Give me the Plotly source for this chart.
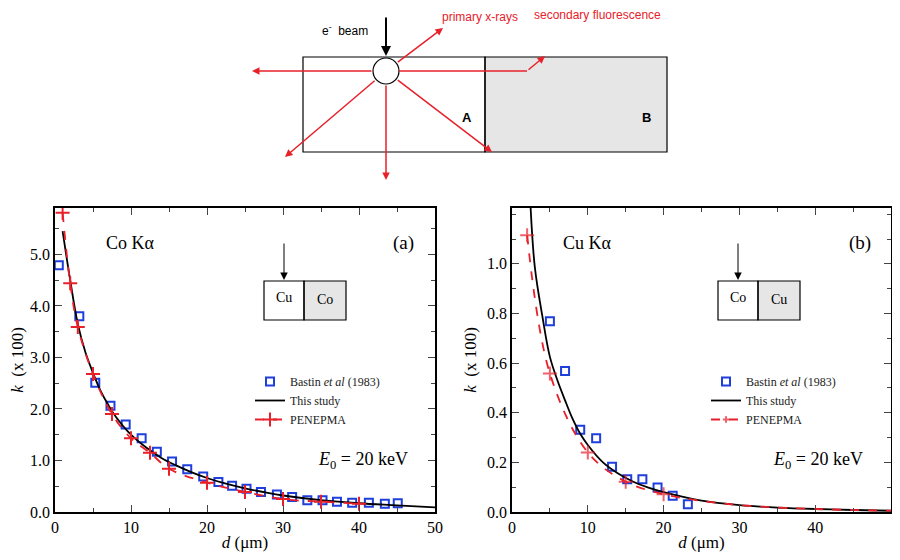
import plotly.graph_objects as go
import math

# Panel (a): Co Ka
a_bastin_d = [0.5,3.2,5.3,7.3,9.3,11.4,13.4,15.4,17.4,19.5,21.5,23.3,25.2,27.1,29.2,31.2,33.2,35.2,37.1,39.1,41.3,43.4,45.1]
a_bastin_k = [4.79,3.80,2.51,2.06,1.70,1.43,1.17,0.98,0.83,0.69,0.58,0.51,0.45,0.39,0.34,0.29,0.23,0.23,0.20,0.18,0.18,0.16,0.17]
a_pen_d = [1,2,3,5,7.5,10,12.5,15,20,25,30,35,40]
a_pen_k = [5.81,4.44,3.59,2.68,1.90,1.43,1.15,0.84,0.57,0.39,0.25,0.20,0.16]
a_study_d = [1,2,3,4,5,6,7,8,10,12,14,16,18,20,22,25,28,30,35,40,45,50]
a_study_k = [5.45,4.5,3.65,3.1,2.7,2.35,2.08,1.85,1.5,1.25,1.05,0.9,0.77,0.66,0.57,0.46,0.37,0.32,0.23,0.17,0.13,0.09]

# Panel (b): Cu Ka
b_bastin_d = [5.0,7.0,9.0,11.1,13.2,15.2,17.2,19.2,21.2,23.2]
b_bastin_k = [0.769,0.568,0.331,0.297,0.182,0.132,0.132,0.099,0.065,0.031]
b_pen_d = [2,5,10,15,20,25,30,35,40,45,50]
b_pen_k = [1.115,0.558,0.24,0.122,0.072,0.045,0.028,0.018,0.012,0.008,0.005]
b_pen_msize = [10,10,10,10,10,0,0,0,0,0,0]
b_study_d = [2.4,3,4,5,6,7,8,9,10,12,14,16,18,20,25,30,35,40,45,50]
b_study_k = [1.26,0.99,0.79,0.625,0.53,0.45,0.375,0.315,0.27,0.2,0.155,0.122,0.098,0.08,0.046,0.028,0.018,0.012,0.008,0.005]

SERIF = "Liberation Serif"
RED = "#e8202a"
BLUE = "#1f3fdc"
OFF = 8
W, H = 900 - 2*OFF, 560 - 2*OFF

def px(x):
    return (x - OFF) / W
def py(y):
    return (560 - OFF - y) / H

fig = go.Figure()

def add_panel(xa, ya, bd, bk, sd, sk, pd, pk, psize=10, leg="legend"):
    fig.add_trace(go.Scatter(x=bd, y=bk, mode="markers", name="Bastin <i>et al</i> (1983)",
        marker=dict(symbol="square-open", size=8, color=BLUE, line=dict(width=2, color=BLUE)),
        xaxis=xa, yaxis=ya, legend=leg))
    fig.add_trace(go.Scatter(x=sd, y=sk, mode="lines", name="This study",
        line=dict(color="black", width=1.8, shape="spline", smoothing=1), xaxis=xa, yaxis=ya, legend=leg))
    fig.add_trace(go.Scatter(x=pd, y=pk, mode="lines+markers", name="PENEPMA",
        line=dict(color=RED, width=1.8, dash="dash", shape="spline"),
        marker=dict(symbol="cross-thin", size=psize, color=RED, line=dict(width=2, color=RED)),
        xaxis=xa, yaxis=ya, legend=leg))

add_panel("x", "y", a_bastin_d, a_bastin_k, a_study_d, a_study_k, a_pen_d, a_pen_k, leg="legend")
add_panel("x2", "y2", b_bastin_d, b_bastin_k, b_study_d, b_study_k, b_pen_d, b_pen_k, psize=b_pen_msize, leg="legend2")

def xax(domain, anchor):
    return dict(domain=domain, anchor=anchor, range=[0, 50], tickvals=[0,10,20,30,40,50],
        ticks="inside", ticklen=7, mirror="allticks", showline=True, linecolor="black", linewidth=1.5,
        showgrid=False, zeroline=False, automargin=False, tickfont=dict(family=SERIF, size=16, color="black"),
        minor=dict(ticks="inside", ticklen=4, dtick=5),
        title=dict(text="<i>d</i> (μm)", font=dict(family=SERIF, size=17, color="black"), standoff=2))

def yax(domain, anchor, rng, vals, txt):
    return dict(domain=domain, anchor=anchor, range=rng, tickvals=vals, ticktext=txt,
        ticks="inside", ticklen=7, mirror="allticks", showline=True, linecolor="black", linewidth=1.5,
        showgrid=False, zeroline=False, automargin=False, tickfont=dict(family=SERIF, size=16, color="black"),
        minor=dict(ticks="inside", ticklen=4, dtick=(vals[1]-vals[0])/2),
        title=dict(text="<i>k</i>  (x 100)", font=dict(family=SERIF, size=17, color="black"), standoff=6))

ydom = [py(512), py(208)]
fig.update_layout(
    width=W, height=H, margin=dict(l=0, r=0, t=0, b=0, autoexpand=False),
    paper_bgcolor="white", plot_bgcolor="rgba(0,0,0,0)", showlegend=True,
    xaxis=xax([px(55), px(435)], "y"),
    yaxis=yax(ydom, "x", [0, 5.9], [0,1,2,3,4,5], ["0.0","1.0","2.0","3.0","4.0","5.0"]),
    xaxis2=xax([px(512), px(891)], "y2"),
    yaxis2=yax(ydom, "x2", [0, 1.225], [0,0.2,0.4,0.6,0.8,1.0], ["0.0","0.2","0.4","0.6","0.8","1.0"]),
    xaxis3=dict(domain=[0,1], range=[OFF, 900-OFF], visible=False, anchor="y3", fixedrange=True, automargin=False),
    yaxis3=dict(domain=[0,1], range=[560-OFF, OFF], visible=False, anchor="x3", fixedrange=True, automargin=False),
    legend=dict(x=px(250), y=py(367), xanchor="left", yanchor="top", bgcolor="rgba(0,0,0,0)",
                font=dict(family=SERIF, size=12, color="#222"), tracegroupgap=0, itemwidth=30),
    legend2=dict(x=px(706), y=py(367), xanchor="left", yanchor="top", bgcolor="rgba(0,0,0,0)",
                font=dict(family=SERIF, size=12, color="#222"), tracegroupgap=0, itemwidth=30),
)
fig.add_trace(go.Scatter(x=[450], y=[300], mode="markers", marker=dict(opacity=0), xaxis="x3", yaxis="y3",
                         showlegend=False, hoverinfo="skip"))

shapes = []
ann = []
def rect(x0, y0, x1, y1, fill="rgba(0,0,0,0)", w=1.2):
    shapes.append(dict(type="rect", xref="x3", yref="y3", x0=x0, y0=y0, x1=x1, y1=y1,
                       fillcolor=fill, line=dict(color="black", width=w), layer="above"))
def text(x, y, t, size=16, color="black", family=SERIF, xanchor="center"):
    ann.append(dict(x=x, y=y, xref="x3", yref="y3", text=t, showarrow=False, xanchor=xanchor,
                    font=dict(family=family, size=size, color=color)))
def arrow(x0, y0, x1, y1, color, w=1.5, size=1):
    ann.append(dict(x=x1, y=y1, ax=x0, ay=y0, xref="x3", yref="y3", axref="x3", ayref="y3",
                    text="", showarrow=True, arrowhead=2, arrowsize=size, arrowwidth=w, arrowcolor=color))

# top diagram
rect(485, 57, 667, 152, fill="#e6e6e6")
rect(303, 57, 485, 152)
shapes.append(dict(type="circle", xref="x3", yref="y3", x0=373, y0=58, x1=399, y1=84,
                   fillcolor="white", line=dict(color="black", width=1.2), layer="above"))
arrow(386, 16, 386, 56, "black", w=2, size=1)
text(345, 30, "e<sup>-</sup>  beam", size=12, family="Liberation Sans")
text(253, 7, "<b>a</b>", size=11, family="Liberation Sans")
text(467, 117, "<b>A</b>", size=13, family="Liberation Sans")
text(646, 117, "<b>B</b>", size=13, family="Liberation Sans")
text(440, 17, "primary x-rays", size=12, color=RED, family="Liberation Sans", xanchor="left")
text(532, 15, "secondary fluorescence", size=12, color=RED, family="Liberation Sans", xanchor="left")
for (x1, y1) in [(252, 71), (443, 28), (285, 157), (386, 180), (492, 152)]:
    dx, dy = x1 - 386, y1 - 71
    L = math.hypot(dx, dy)
    arrow(386 + dx/L*13, 71 + dy/L*13, x1, y1, RED)
shapes.append(dict(type="line", xref="x3", yref="y3", x0=399, y0=71, x1=527, y1=71,
                   line=dict(color=RED, width=1.5)))
arrow(527, 71, 545, 56, RED)

# panel insets
for (x0, l1, l2) in [(264, "Cu", "Co"), (718, "Co", "Cu")]:
    rect(x0 + 40, 281, x0 + 82, 320, fill="#e6e6e6")
    rect(x0, 281, x0 + 40, 320)
    arrow(x0 + 20, 242, x0 + 20, 280, "black", w=1, size=1.5)
    text(x0 + 20, 297, l1, size=14)
    text(x0 + 61, 299, l2, size=14)

text(130, 243, "Co Kα", size=18)
text(403, 243, "(a)", size=19)
text(363, 460, "<i>E</i><sub>0</sub> = 20 keV", size=18)
text(587, 243, "Cu Kα", size=18)
text(860, 243, "(b)", size=19)
text(818, 460, "<i>E</i><sub>0</sub> = 20 keV", size=18)

fig.update_layout(shapes=shapes, annotations=ann)
fig.write_html("out.html")
